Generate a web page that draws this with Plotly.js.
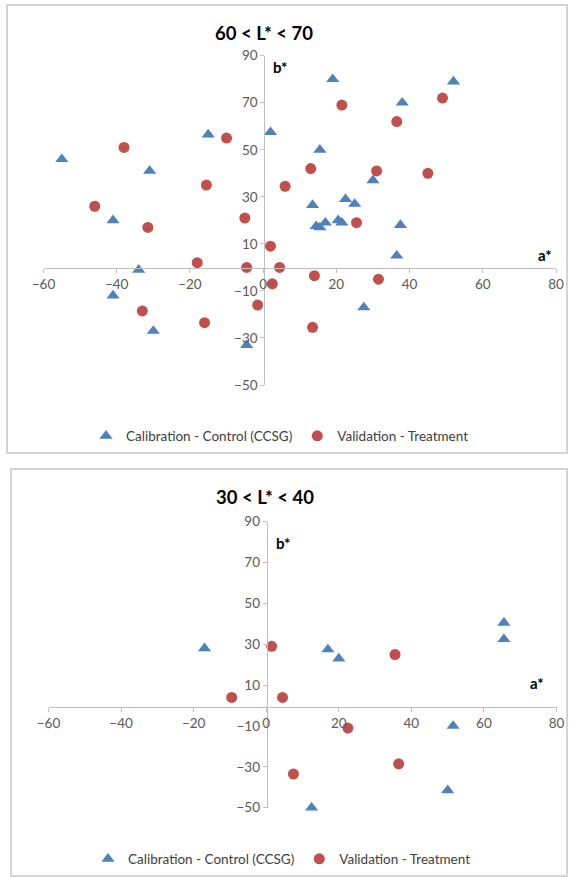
<!DOCTYPE html>
<html>
<head>
<meta charset="utf-8">
<script src="https://cdn.plot.ly/plotly-3.0.1.min.js"></script>
<style>html,body{margin:0;padding:0;background:#fff;}#chart{width:571px;height:877px;}</style>
</head>
<body>
<div id="chart"></div>
<script>
// ---- Data ----
const seriesNames = ["Calibration - Control (CCSG)", "Validation - Treatment"];
const panelTitles = ["60 < L* < 70", "30 < L* < 40"];
const xTicks = [-60, -40, -20, 0, 20, 40, 60, 80];
const yTicks = [-50, -30, -10, 10, 30, 50, 70, 90];

// Top panel (60 < L* < 70)
const topCalA = [-55, -31, -41, -34, -41, -30, -4.5, -15, 2, 19, 52, 38, 15.5, 30, 13.5, 22.5, 25, 14.5, 15.5, 17, 20.5, 21.5, 37.5, 36.5, 27.5];
const topCalB = [46, 41, 20, -1, -12, -27, -33, 56.5, 57.5, 80, 79, 70, 50, 37, 26.5, 29, 27, 17.5, 17, 19, 20, 19, 18, 5, -17];
const topValA = [21.5, 49, 36.5, -10, -38, 13, 31, 45, -15.5, 6, -46, -5, 25.5, -31.5, 2, -18, -4.5, 4.5, 14, 31.5, 2.5, -1.5, -33, -16, 13.5];
const topValB = [69, 72, 62, 55, 51, 42, 41, 40, 35, 34.5, 26, 21, 19, 17, 9, 2, 0, 0, -3.5, -5, -7, -16, -18.5, -23.5, -25.5];

// Bottom panel (30 < L* < 40)
const botCalA = [-17, 17, 20, 65.5, 65.5, 51.5, 50, 12.5];
const botCalB = [28, 27.5, 23, 40.5, 32.5, -10, -41.5, -50];
const botValA = [1.5, 35.5, -9.5, 4.5, 22.5, 7.5, 36.5];
const botValB = [29, 25, 4, 4, -11, -33.5, -28.5];

// ---- Styles ----
const W = 571, H = 877;
const BLUE = "#4F81BD", RED = "#C0504D";
const FONT = "Lato, 'Open Sans', sans-serif";
const px = v => v / W;
const py = v => 1 - v / H;

function pts(x, y, name, sym, color, xa, ya, lg) {
  return {x: x, y: y, name: name, mode: "markers", type: "scatter", cliponaxis: false,
    marker: {symbol: sym, size: sym === "circle" ? 11 : 11.5, color: color},
    xaxis: xa, yaxis: ya, legend: lg};
}

const traces = [
  pts(topCalA, topCalB, seriesNames[0], "triangle-up", BLUE, "x", "y", "legend"),
  pts(topValA, topValB, seriesNames[1], "circle", RED, "x", "y", "legend"),
  pts(botCalA, botCalB, seriesNames[0], "triangle-up", BLUE, "x2", "y2", "legend2"),
  pts(botValA, botValB, seriesNames[1], "circle", RED, "x2", "y2", "legend2")
];

function xAxis(domain, pos) {
  return {domain: domain, range: [-60, 80], tickvals: xTicks, showgrid: false, zeroline: false,
    showline: true, linecolor: "#bfbfbf", linewidth: 1, ticks: "outside", ticklen: 4, tickcolor: "#bfbfbf",
    anchor: "free", position: pos, tickfont: {family: FONT, size: 13.5, color: "#595959"}, fixedrange: true};
}
function yAxis(domain, pos) {
  return {domain: domain, range: [-50, 90], tickvals: yTicks, showgrid: false, zeroline: false,
    showline: true, linecolor: "#bfbfbf", linewidth: 1, ticks: "outside", ticklen: 4, tickcolor: "#bfbfbf",
    anchor: "free", position: pos, tickfont: {family: FONT, size: 13.5, color: "#595959"}, fixedrange: true};
}

const layout = {
  width: W, height: H,
  margin: {l: 0, r: 0, t: 0, b: 0},
  paper_bgcolor: "#fff", plot_bgcolor: "rgba(0,0,0,0)",
  font: {family: FONT},
  xaxis: xAxis([px(43.5), px(556)], py(267.5)),
  yaxis: yAxis([py(385), py(55.7)], px(264.3)),
  xaxis2: xAxis([px(48.5), px(556.5)], py(706.5)),
  yaxis2: yAxis([py(807.7), py(521.7)], px(266.7)),
  legend: {orientation: "h", x: px(86), xanchor: "left", y: py(436), yanchor: "middle",
    font: {family: FONT, size: 13.5, color: "#404040"}, bgcolor: "rgba(0,0,0,0)", itemwidth: 30},
  legend2: {orientation: "h", x: px(88), xanchor: "left", y: py(859), yanchor: "middle",
    font: {family: FONT, size: 13.5, color: "#404040"}, bgcolor: "rgba(0,0,0,0)", itemwidth: 30},
  annotations: [
    {text: "<b>" + panelTitles[0].replace(/</g, "&lt;") + "</b>", xref: "paper", yref: "paper", x: px(264), y: py(33),
     xanchor: "center", yanchor: "middle", showarrow: false, font: {family: FONT, size: 18.5, color: "#000"}},
    {text: "<b>" + panelTitles[1].replace(/</g, "&lt;") + "</b>", xref: "paper", yref: "paper", x: px(265), y: py(497),
     xanchor: "center", yanchor: "middle", showarrow: false, font: {family: FONT, size: 18.5, color: "#000"}},
    {text: "<b>b*</b>", xref: "paper", yref: "paper", x: px(280), y: py(67), xanchor: "center", yanchor: "middle",
     showarrow: false, font: {family: FONT, size: 15, color: "#000"}},
    {text: "<b>a*</b>", xref: "paper", yref: "paper", x: px(545), y: py(255), xanchor: "center", yanchor: "middle",
     showarrow: false, font: {family: FONT, size: 15, color: "#000"}},
    {text: "<b>b*</b>", xref: "paper", yref: "paper", x: px(283), y: py(543), xanchor: "center", yanchor: "middle",
     showarrow: false, font: {family: FONT, size: 15, color: "#000"}},
    {text: "<b>a*</b>", xref: "paper", yref: "paper", x: px(537), y: py(683), xanchor: "center", yanchor: "middle",
     showarrow: false, font: {family: FONT, size: 15, color: "#000"}}
  ],
  shapes: [
    {type: "rect", xref: "paper", yref: "paper", x0: px(7), x1: px(567), y0: py(453), y1: py(5),
     line: {color: "#d4d4d4", width: 2}},
    {type: "rect", xref: "paper", yref: "paper", x0: px(11), x1: px(567), y0: py(876), y1: py(469),
     line: {color: "#d4d4d4", width: 2}}
  ]
};

Plotly.newPlot("chart", traces, layout, {staticPlot: true, displayModeBar: false});
</script>
</body>
</html>
